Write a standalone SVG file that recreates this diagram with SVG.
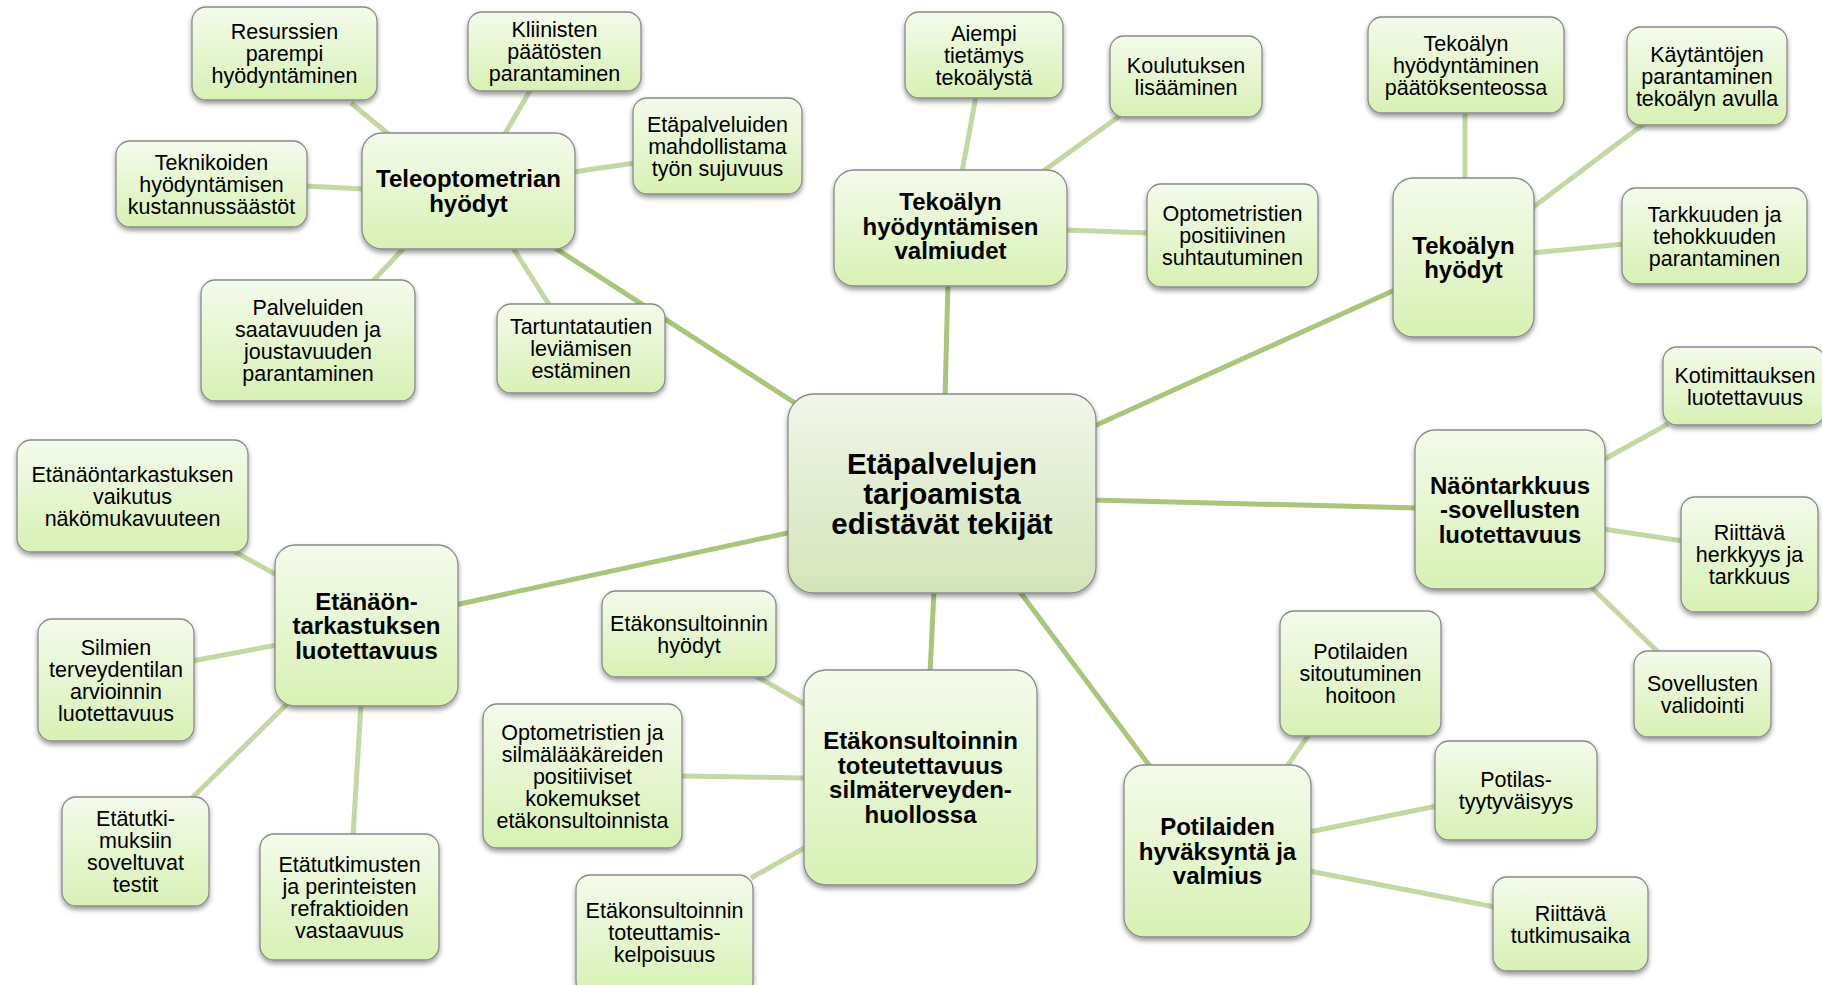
<svg xmlns="http://www.w3.org/2000/svg" width="1822" height="985" viewBox="0 0 1822 985">
  <defs>
    <linearGradient id="gLeaf" x1="0" y1="0" x2="0" y2="1">
      <stop offset="0" stop-color="#f4fbec"/>
      <stop offset="1" stop-color="#d8f1b4"/>
    </linearGradient>
    <linearGradient id="gCore" x1="0" y1="0" x2="0" y2="1">
      <stop offset="0" stop-color="#f1f6ea"/>
      <stop offset="1" stop-color="#d3e4b8"/>
    </linearGradient>
    <filter id="shadow" x="-10%" y="-10%" width="120%" height="130%">
      <feDropShadow dx="0" dy="3" stdDeviation="2.5" flood-color="#000" flood-opacity="0.4"/>
    </filter>
    <style>
      .box { fill: url(#gLeaf); stroke: #8a8a8a; stroke-width: 1.3; filter: url(#shadow); }
      .core { fill: url(#gCore); stroke: #8a8a8a; stroke-width: 1.3; filter: url(#shadow); }
      .t { font-family: "Liberation Sans", Arial, sans-serif; font-size: 21.5px; fill: #000; text-anchor: middle; }
      .h { font-family: "Liberation Sans", Arial, sans-serif; font-size: 24px; font-weight: bold; fill: #000; text-anchor: middle; }
      .c { font-family: "Liberation Sans", Arial, sans-serif; font-size: 29.5px; font-weight: bold; fill: #000; text-anchor: middle; }
      .main { stroke: #a9c67a; stroke-width: 5; stroke-linecap: butt; fill: none; }
      .sub { stroke: #c4d8a3; stroke-width: 5; stroke-linecap: butt; fill: none; }
    </style>
  </defs>

  <rect x="0" y="0" width="1822" height="985" fill="#ffffff"/>

  <!-- connectors -->
  <g id="connectors">
    <line class="main" x1="555" y1="248" x2="795" y2="403"/>
    <line class="main" x1="948" y1="282" x2="945" y2="398"/>
    <line class="main" x1="1092" y1="427" x2="1397" y2="289"/>
    <line class="main" x1="1092" y1="500" x2="1419" y2="508"/>
    <line class="main" x1="1020" y1="592" x2="1152" y2="769"/>
    <line class="main" x1="934" y1="590" x2="930" y2="674"/>
    <line class="main" x1="792" y1="532" x2="455" y2="605"/>

    <line class="sub" x1="351" y1="103" x2="392" y2="137"/>
    <line class="sub" x1="531" y1="89" x2="503" y2="137"/>
    <line class="sub" x1="635" y1="163" x2="573" y2="172"/>
    <line class="sub" x1="305" y1="186" x2="364" y2="189"/>
    <line class="sub" x1="372" y1="282" x2="404" y2="248"/>
    <line class="sub" x1="513" y1="248" x2="550" y2="306"/>

    <line class="sub" x1="976" y1="96" x2="962" y2="172"/>
    <line class="sub" x1="1121" y1="115" x2="1042" y2="172"/>
    <line class="sub" x1="1065" y1="230" x2="1149" y2="233"/>

    <line class="sub" x1="1465" y1="111" x2="1465" y2="181"/>
    <line class="sub" x1="1645" y1="123" x2="1532" y2="208"/>
    <line class="sub" x1="1532" y1="253" x2="1624" y2="244"/>

    <line class="sub" x1="1668" y1="424" x2="1603" y2="460"/>
    <line class="sub" x1="1683" y1="541" x2="1603" y2="529"/>
    <line class="sub" x1="1659" y1="653" x2="1592" y2="588"/>

    <line class="sub" x1="1310" y1="733" x2="1286" y2="768"/>
    <line class="sub" x1="1437" y1="806" x2="1309" y2="832"/>
    <line class="sub" x1="1495" y1="907" x2="1309" y2="871"/>

    <line class="sub" x1="756" y1="676" x2="806" y2="705"/>
    <line class="sub" x1="680" y1="776" x2="806" y2="778"/>
    <line class="sub" x1="751" y1="878" x2="806" y2="847"/>

    <line class="sub" x1="235" y1="552" x2="277" y2="575"/>
    <line class="sub" x1="192" y1="661" x2="277" y2="645"/>
    <line class="sub" x1="191" y1="799" x2="287" y2="704"/>
    <line class="sub" x1="353" y1="836" x2="361" y2="704"/>
  </g>

  <!-- central topic -->
  <g id="n-core">
    <rect class="core" x="788" y="394" width="308" height="199" rx="26"/>
    <text class="c" x="942" y="474"><tspan x="942">Etäpalvelujen</tspan><tspan x="942" dy="30">tarjoamista</tspan><tspan x="942" dy="30">edistävät tekijät</tspan></text>
  </g>

  <!-- Teleoptometrian hyödyt -->
  <g id="n-teleoptometria">
    <rect class="box" x="362" y="133" width="213" height="116" rx="20"/>
    <text class="h" x="468.5" y="187.4"><tspan x="468.5">Teleoptometrian</tspan><tspan x="468.5" dy="24.5">hyödyt</tspan></text>
  </g>
  <g id="n-resurssit">
    <rect class="box" x="192" y="7" width="185" height="93" rx="14"/>
    <text class="t" x="284.5" y="39.2"><tspan x="284.5">Resurssien</tspan><tspan x="284.5" dy="22">parempi</tspan><tspan x="284.5" dy="22">hyödyntäminen</tspan></text>
  </g>
  <g id="n-kliiniset">
    <rect class="box" x="468" y="12" width="173" height="79" rx="14"/>
    <text class="t" x="554.5" y="37.2"><tspan x="554.5">Kliinisten</tspan><tspan x="554.5" dy="22">päätösten</tspan><tspan x="554.5" dy="22">parantaminen</tspan></text>
  </g>
  <g id="n-sujuvuus">
    <rect class="box" x="633" y="98" width="169" height="96" rx="14"/>
    <text class="t" x="717.5" y="131.7"><tspan x="717.5">Etäpalveluiden</tspan><tspan x="717.5" dy="22">mahdollistama</tspan><tspan x="717.5" dy="22">työn sujuvuus</tspan></text>
  </g>
  <g id="n-teknikot">
    <rect class="box" x="116" y="141" width="191" height="86" rx="14"/>
    <text class="t" x="211.5" y="169.7"><tspan x="211.5">Teknikoiden</tspan><tspan x="211.5" dy="22">hyödyntämisen</tspan><tspan x="211.5" dy="22">kustannussäästöt</tspan></text>
  </g>
  <g id="n-saatavuus">
    <rect class="box" x="201" y="280" width="214" height="121" rx="14"/>
    <text class="t" x="308" y="315.2"><tspan x="308">Palveluiden</tspan><tspan x="308" dy="22">saatavuuden ja</tspan><tspan x="308" dy="22">joustavuuden</tspan><tspan x="308" dy="22">parantaminen</tspan></text>
  </g>
  <g id="n-tartuntataudit">
    <rect class="box" x="497" y="304" width="168" height="89" rx="14"/>
    <text class="t" x="581" y="334.2"><tspan x="581">Tartuntatautien</tspan><tspan x="581" dy="22">leviämisen</tspan><tspan x="581" dy="22">estäminen</tspan></text>
  </g>

  <!-- Tekoälyn hyödyntämisen valmiudet -->
  <g id="n-valmiudet">
    <rect class="box" x="834" y="170" width="233" height="116" rx="20"/>
    <text class="h" x="950.5" y="210"><tspan x="950.5">Tekoälyn</tspan><tspan x="950.5" dy="24.5">hyödyntämisen</tspan><tspan x="950.5" dy="24.5">valmiudet</tspan></text>
  </g>
  <g id="n-tietamys">
    <rect class="box" x="905" y="12" width="158" height="86" rx="14"/>
    <text class="t" x="984" y="40.7"><tspan x="984">Aiempi</tspan><tspan x="984" dy="22">tietämys</tspan><tspan x="984" dy="22">tekoälystä</tspan></text>
  </g>
  <g id="n-koulutus">
    <rect class="box" x="1110" y="36" width="152" height="81" rx="14"/>
    <text class="t" x="1186" y="73.2"><tspan x="1186">Koulutuksen</tspan><tspan x="1186" dy="22">lisääminen</tspan></text>
  </g>
  <g id="n-suhtautuminen">
    <rect class="box" x="1147" y="184" width="171" height="103" rx="14"/>
    <text class="t" x="1232.5" y="221.2"><tspan x="1232.5">Optometristien</tspan><tspan x="1232.5" dy="22">positiivinen</tspan><tspan x="1232.5" dy="22">suhtautuminen</tspan></text>
  </g>

  <!-- Tekoälyn hyödyt -->
  <g id="n-tekoaly-hyodyt">
    <rect class="box" x="1393" y="178" width="141" height="159" rx="20"/>
    <text class="h" x="1463.5" y="253.9"><tspan x="1463.5">Tekoälyn</tspan><tspan x="1463.5" dy="24.5">hyödyt</tspan></text>
  </g>
  <g id="n-paatoksenteko">
    <rect class="box" x="1368" y="17" width="196" height="96" rx="14"/>
    <text class="t" x="1466" y="50.7"><tspan x="1466">Tekoälyn</tspan><tspan x="1466" dy="22">hyödyntäminen</tspan><tspan x="1466" dy="22">päätöksenteossa</tspan></text>
  </g>
  <g id="n-kaytannot">
    <rect class="box" x="1627" y="27" width="160" height="98" rx="14"/>
    <text class="t" x="1707" y="61.7"><tspan x="1707">Käytäntöjen</tspan><tspan x="1707" dy="22">parantaminen</tspan><tspan x="1707" dy="22">tekoälyn avulla</tspan></text>
  </g>
  <g id="n-tarkkuus">
    <rect class="box" x="1622" y="188" width="185" height="96" rx="14"/>
    <text class="t" x="1714.5" y="221.7"><tspan x="1714.5">Tarkkuuden ja</tspan><tspan x="1714.5" dy="22">tehokkuuden</tspan><tspan x="1714.5" dy="22">parantaminen</tspan></text>
  </g>

  <!-- Näöntarkkuus-sovellusten luotettavuus -->
  <g id="n-sovellukset">
    <rect class="box" x="1415" y="430" width="190" height="159" rx="20"/>
    <text class="h" x="1510" y="493.6"><tspan x="1510">Näöntarkkuus</tspan><tspan x="1510" dy="24.5">-sovellusten</tspan><tspan x="1510" dy="24.5">luotettavuus</tspan></text>
  </g>
  <g id="n-kotimittaus">
    <rect class="box" x="1663" y="347" width="162" height="78" rx="14"/>
    <text class="t" x="1745" y="382.7"><tspan x="1745">Kotimittauksen</tspan><tspan x="1745" dy="22">luotettavuus</tspan></text>
  </g>
  <g id="n-herkkyys">
    <rect class="box" x="1681" y="497" width="137" height="115" rx="14"/>
    <text class="t" x="1749.5" y="540.2"><tspan x="1749.5">Riittävä</tspan><tspan x="1749.5" dy="22">herkkyys ja</tspan><tspan x="1749.5" dy="22">tarkkuus</tspan></text>
  </g>
  <g id="n-validointi">
    <rect class="box" x="1634" y="651" width="137" height="86" rx="14"/>
    <text class="t" x="1702.5" y="690.7"><tspan x="1702.5">Sovellusten</tspan><tspan x="1702.5" dy="22">validointi</tspan></text>
  </g>

  <!-- Potilaiden hyväksyntä ja valmius -->
  <g id="n-hyvaksynta">
    <rect class="box" x="1124" y="765" width="187" height="172" rx="20"/>
    <text class="h" x="1217.5" y="835.1"><tspan x="1217.5">Potilaiden</tspan><tspan x="1217.5" dy="24.5">hyväksyntä ja</tspan><tspan x="1217.5" dy="24.5">valmius</tspan></text>
  </g>
  <g id="n-sitoutuminen">
    <rect class="box" x="1280" y="611" width="161" height="125" rx="14"/>
    <text class="t" x="1360.5" y="659.2"><tspan x="1360.5">Potilaiden</tspan><tspan x="1360.5" dy="22">sitoutuminen</tspan><tspan x="1360.5" dy="22">hoitoon</tspan></text>
  </g>
  <g id="n-tyytyvaisyys">
    <rect class="box" x="1435" y="741" width="162" height="99" rx="14"/>
    <text class="t" x="1516" y="787.2"><tspan x="1516">Potilas-</tspan><tspan x="1516" dy="22">tyytyväisyys</tspan></text>
  </g>
  <g id="n-tutkimusaika">
    <rect class="box" x="1493" y="877" width="155" height="94" rx="14"/>
    <text class="t" x="1570.5" y="920.7"><tspan x="1570.5">Riittävä</tspan><tspan x="1570.5" dy="22">tutkimusaika</tspan></text>
  </g>

  <!-- Etäkonsultoinnin toteutettavuus -->
  <g id="n-etakonsultointi">
    <rect class="box" x="804" y="670" width="233" height="215" rx="22"/>
    <text class="h" x="920.5" y="749.4"><tspan x="920.5">Etäkonsultoinnin</tspan><tspan x="920.5" dy="24.5">toteutettavuus</tspan><tspan x="920.5" dy="24.5">silmäterveyden-</tspan><tspan x="920.5" dy="24.5">huollossa</tspan></text>
  </g>
  <g id="n-konsultointi-hyodyt">
    <rect class="box" x="602" y="591" width="174" height="86" rx="14"/>
    <text class="t" x="689" y="630.7"><tspan x="689">Etäkonsultoinnin</tspan><tspan x="689" dy="22">hyödyt</tspan></text>
  </g>
  <g id="n-kokemukset">
    <rect class="box" x="483" y="704" width="199" height="144" rx="14"/>
    <text class="t" x="582.5" y="739.7"><tspan x="582.5">Optometristien ja</tspan><tspan x="582.5" dy="22">silmälääkäreiden</tspan><tspan x="582.5" dy="22">positiiviset</tspan><tspan x="582.5" dy="22">kokemukset</tspan><tspan x="582.5" dy="22">etäkonsultoinnista</tspan></text>
  </g>
  <g id="n-kelpoisuus">
    <rect class="box" x="576" y="875" width="177" height="120" rx="14"/>
    <text class="t" x="664.5" y="918"><tspan x="664.5">Etäkonsultoinnin</tspan><tspan x="664.5" dy="22">toteuttamis-</tspan><tspan x="664.5" dy="22">kelpoisuus</tspan></text>
  </g>

  <!-- Etänäöntarkastuksen luotettavuus -->
  <g id="n-etanaontarkastus">
    <rect class="box" x="275" y="545" width="183" height="161" rx="20"/>
    <text class="h" x="366.5" y="609.6"><tspan x="366.5">Etänäön-</tspan><tspan x="366.5" dy="24.5">tarkastuksen</tspan><tspan x="366.5" dy="24.5">luotettavuus</tspan></text>
  </g>
  <g id="n-nakomukavuus">
    <rect class="box" x="17" y="440" width="231" height="112" rx="14"/>
    <text class="t" x="132.5" y="481.7"><tspan x="132.5">Etänäöntarkastuksen</tspan><tspan x="132.5" dy="22">vaikutus</tspan><tspan x="132.5" dy="22">näkömukavuuteen</tspan></text>
  </g>
  <g id="n-terveydentila">
    <rect class="box" x="38" y="619" width="156" height="122" rx="14"/>
    <text class="t" x="116" y="654.7"><tspan x="116">Silmien</tspan><tspan x="116" dy="22">terveydentilan</tspan><tspan x="116" dy="22">arvioinnin</tspan><tspan x="116" dy="22">luotettavuus</tspan></text>
  </g>
  <g id="n-testit">
    <rect class="box" x="62" y="797" width="147" height="109" rx="14"/>
    <text class="t" x="135.5" y="826.2"><tspan x="135.5">Etätutki-</tspan><tspan x="135.5" dy="22">muksiin</tspan><tspan x="135.5" dy="22">soveltuvat</tspan><tspan x="135.5" dy="22">testit</tspan></text>
  </g>
  <g id="n-vastaavuus">
    <rect class="box" x="260" y="834" width="179" height="126" rx="14"/>
    <text class="t" x="349.5" y="871.7"><tspan x="349.5">Etätutkimusten</tspan><tspan x="349.5" dy="22">ja perinteisten</tspan><tspan x="349.5" dy="22">refraktioiden</tspan><tspan x="349.5" dy="22">vastaavuus</tspan></text>
  </g>
</svg>
